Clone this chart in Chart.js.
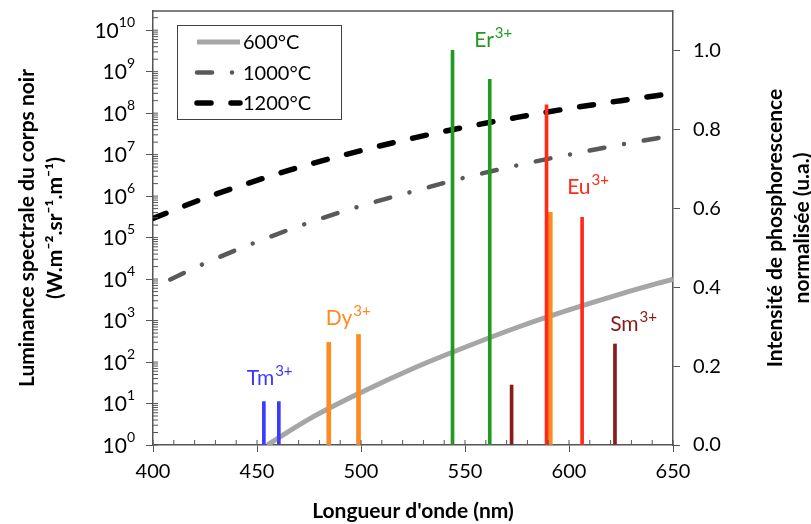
<!DOCTYPE html>
<html>
<head>
<meta charset="utf-8">
<script src="https://cdn.jsdelivr.net/npm/chart.js@4.4.1/dist/chart.umd.min.js"></script>
<style>
  body { margin: 0; background: #fff; }
</style>
</head>
<body>
<canvas id="chart" width="811" height="524"></canvas>
<script>
// ---------------- Données du corps noir ----------------
const wavelengths = [400, 425, 450, 475, 500, 525, 550, 575, 600, 625, 650];
const wavelengths600 = [455, 475, 500, 525, 550, 575, 600, 625, 650];
const lum600 = [1.0, 4.2, 18.5, 70, 227, 680, 1800, 4400, 1.0e4];
const lum1000 = [6.2e3, 2.4e4, 7.9e4, 2.3e5, 5.8e5, 1.3e6, 2.8e6, 5.5e6, 1.0e7, 1.75e7, 2.9e7];
const lum1200 = [2.9e5, 9.0e5, 2.4e6, 5.8e6, 1.25e7, 2.5e7, 4.6e7, 7.9e7, 1.3e8, 2.0e8, 3.0e8];
const seriesLabels = ['600°C', '1000°C', '1200°C'];

// ---------------- Raies de phosphorescence (intensité normalisée) ----------------
const ionNames = ['Tm', 'Dy', 'Er', 'Eu', 'Sm'];
const tmPeaks = [453.3, 460.5];
const tmHeights = [0.11, 0.11];
const dyPeaks = [484.5, 498.8, 591.0];
const dyHeights = [0.26, 0.28, 0.59];
const erPeaks = [544.0, 561.9];
const erHeights = [1.0, 0.927];
const euPeaks = [589.2, 606.3];
const euHeights = [0.862, 0.577];
const smPeaks = [572.4, 622.1];
const smHeights = [0.152, 0.256];

// position des étiquettes des ions (nm, intensité)
const ionLabelNm = [445.1, 483.0, 554.5, 599.1, 619.8];
const ionLabelVal = [0.152, 0.305, 1.01, 0.635, 0.289];

// ---------------- Axes ----------------
const decades = [0, 1, 2, 3, 4, 5, 6, 7, 8, 9, 10];
const rightTicks = [0, 0.2, 0.4, 0.6, 0.8, 1.0];
const xMajor = [400, 450, 500, 550, 600, 650];

const family = 'Lato, "DejaVu Sans", sans-serif';
const frameColor = '#555555';
const colors = {Tm: '#3b3bff', Dy: '#ff8a22', Er: '#229a22', Eu: '#ff2a1a', Sm: '#8b1a1a'};

function toPoints(xs, ys) {
    return xs.map((x, i) => ({x: x, y: ys[i]}));
}

function peakDataset(name, xs, ys, thick) {
    return {
        type: 'bar',
        label: name,
        data: toPoints(xs, ys),
        backgroundColor: colors[name],
        barThickness: thick,
        grouped: false,
        xAxisID: 'x',
        yAxisID: 'y1',
        order: 1
    };
}

function isDecade(v) {
    const l = Math.log10(v);
    return Math.abs(l - Math.round(l)) < 1e-9;
}

// pas de marge automatique autour des axes
function noPadding(s) {
    s.paddingTop = 0;
    s.paddingBottom = 0;
    s.paddingLeft = 0;
    s.paddingRight = 0;
}

// ---------------- Plugins : cadre, petites graduations, étiquettes ----------------
const decorations = {
    id: 'decorations',
    afterDraw(chart) {
        const ctx = chart.ctx;
        const area = chart.chartArea;
        const xs = chart.scales.x, ys = chart.scales.y, y1 = chart.scales.y1;
        ctx.save();

        // cadre du haut
        ctx.strokeStyle = frameColor;
        ctx.lineWidth = 1.5;
        ctx.beginPath();
        ctx.moveTo(area.left, area.top);
        ctx.lineTo(area.right, area.top);
        ctx.stroke();

        // graduations intérieures
        ctx.lineWidth = 1;
        ctx.beginPath();
        xs.ticks.forEach(t => {
            const px = xs.getPixelForValue(t.value);
            ctx.moveTo(px, area.bottom);
            ctx.lineTo(px, area.bottom - 5);
        });
        ys.ticks.forEach(t => {
            const py = ys.getPixelForValue(t.value);
            ctx.moveTo(area.left, py);
            ctx.lineTo(area.left + 5, py);
        });
        ctx.stroke();

        // étiquettes 10^n de l'axe gauche
        ctx.fillStyle = '#000';
        decades.forEach(d => {
            const py = ys.getPixelForValue(Math.pow(10, d));
            const exp = String(d);
            ctx.font = '14px ' + family;
            const ew = ctx.measureText(exp).width;
            const xr = area.left - 18;
            ctx.textBaseline = 'middle';
            ctx.textAlign = 'right';
            ctx.font = '21px ' + family;
            ctx.fillText('10', xr - ew, py + 1);
            ctx.textAlign = 'left';
            ctx.font = '14px ' + family;
            ctx.fillText(exp, xr - ew, py - 8);
        });

        // titre de l'axe droit
        ctx.save();
        ctx.translate(789, (area.top + area.bottom) / 2);
        ctx.rotate(-Math.PI / 2);
        ctx.textAlign = 'center';
        ctx.textBaseline = 'middle';
        ctx.font = 'bold 21px ' + family;
        ctx.fillText('Intensité de phosphorescence', 0, -14);
        ctx.fillText('normalisée (u.a.)', 0, 13);
        ctx.restore();

        // étiquettes des ions
        ionNames.forEach((name, i) => {
            const px = xs.getPixelForValue(ionLabelNm[i]);
            const py = y1.getPixelForValue(ionLabelVal[i]);
            ctx.fillStyle = colors[name];
            ctx.textAlign = 'left';
            ctx.textBaseline = 'alphabetic';
            ctx.font = '21px ' + family;
            ctx.fillText(name, px, py);
            const w = ctx.measureText(name).width;
            ctx.font = '15px ' + family;
            ctx.fillText('3+', px + w + 1, py - 9);
        });

        // légende
        const bx = area.left + 24, by = area.top + 14, bw = 164, bh = 94;
        ctx.strokeStyle = '#404040';
        ctx.lineWidth = 1;
        ctx.strokeRect(bx + 0.5, by + 0.5, bw, bh);
        chart.data.datasets.slice(0, 3).forEach((ds, i) => {
            const ly = by + 17 + i * 30.5;
            ctx.save();
            ctx.strokeStyle = ds.borderColor;
            ctx.lineWidth = ds.borderWidth;
            ctx.lineCap = ds.borderCapStyle || 'butt';
            ctx.setLineDash(ds.borderDash || []);
            ctx.beginPath();
            ctx.moveTo(bx + 20, ly);
            ctx.lineTo(bx + 63, ly);
            ctx.stroke();
            ctx.restore();
            ctx.fillStyle = '#000';
            ctx.font = '20px ' + family;
            ctx.textAlign = 'left';
            ctx.textBaseline = 'middle';
            ctx.fillText(ds.label, bx + 66, ly + 1);
        });

        ctx.restore();
    }
};

// ---------------- Graphique ----------------
const ctx = document.getElementById('chart').getContext('2d');
new Chart(ctx, {
    type: 'line',
    data: {
        datasets: [
            {
                label: seriesLabels[0],
                data: toPoints(wavelengths600, lum600),
                borderColor: '#a6a6a6',
                borderWidth: 5,
                pointRadius: 0,
                cubicInterpolationMode: 'monotone',
                yAxisID: 'y',
                order: 2
            },
            {
                label: seriesLabels[1],
                data: toPoints(wavelengths, lum1000),
                borderColor: '#595959',
                borderWidth: 4.5,
                borderDash: [15, 20, 0.01, 20],
                borderDashOffset: 36,
                borderCapStyle: 'round',
                pointRadius: 0,
                cubicInterpolationMode: 'monotone',
                yAxisID: 'y',
                order: 2
            },
            {
                label: seriesLabels[2],
                data: toPoints(wavelengths, lum1200),
                borderColor: '#000000',
                borderWidth: 5.5,
                borderDash: [14, 20],
                borderCapStyle: 'round',
                pointRadius: 0,
                cubicInterpolationMode: 'monotone',
                yAxisID: 'y',
                order: 2
            },
            peakDataset('Tm', tmPeaks, tmHeights, 3),
            peakDataset('Eu', euPeaks, euHeights, 3),
            peakDataset('Dy', dyPeaks, dyHeights, 4),
            peakDataset('Er', erPeaks, erHeights, 3),
            peakDataset('Sm', smPeaks, smHeights, 3)
        ]
    },
    options: {
        responsive: false,
        animation: false,
        devicePixelRatio: 1,
        layout: {padding: {top: 11, left: 0, right: 0, bottom: 0}},
        plugins: {
            legend: {display: false},
            tooltip: {enabled: false}
        },
        scales: {
            x: {
                type: 'linear',
                position: 'bottom',
                min: 400,
                max: 650,
                offset: false,
                afterFit: s => { s.height = 79; noPadding(s); },
                ticks: {
                    stepSize: 10,
                    maxTicksLimit: 60,
                    autoSkip: false,
                    maxRotation: 0,
                    padding: 8,
                    color: '#000',
                    font: {family: family, size: 20},
                    callback: v => xMajor.includes(v) ? String(v) : ''
                },
                grid: {
                    offset: false,
                    drawOnChartArea: false,
                    tickLength: 7,
                    tickColor: c => (c.tick && xMajor.includes(c.tick.value)) ? frameColor : 'rgba(0,0,0,0)'
                },
                border: {color: frameColor, width: 1.5},
                title: {
                    display: true,
                    text: "Longueur d'onde (nm)",
                    color: '#000',
                    font: {family: family, size: 21, weight: 'bold', lineHeight: 1.2},
                    padding: {top: 0, bottom: 0}
                }
            },
            y: {
                type: 'logarithmic',
                position: 'left',
                min: 1,
                max: 2.9e10,
                afterFit: s => { s.width = 153; noPadding(s); },
                afterBuildTicks: s => {
                    const t = [];
                    decades.forEach(d => {
                        for (let k = 1; k <= 9; k++) {
                            const v = k * Math.pow(10, d);
                            if (v <= 2.9e10) t.push({value: v});
                        }
                    });
                    s.ticks = t;
                },
                ticks: {
                    autoSkip: false,
                    color: 'rgba(0,0,0,0)',
                    font: {family: family, size: 20},
                    callback: v => isDecade(v) ? '10' : ''
                },
                grid: {
                    drawOnChartArea: false,
                    tickLength: 7,
                    tickColor: c => (c.tick && isDecade(c.tick.value)) ? frameColor : 'rgba(0,0,0,0)'
                },
                border: {color: frameColor, width: 1.5},
                title: {
                    display: true,
                    text: ['Luminance spectrale du corps noir', '(W.m⁻².sr⁻¹.m⁻¹)'],
                    color: '#000',
                    font: {family: family, size: 21, weight: 'bold', lineHeight: 1.3},
                    padding: {top: 14, bottom: 0}
                }
            },
            y1: {
                type: 'linear',
                position: 'right',
                min: 0,
                max: 1.1,
                afterFit: s => { s.width = 138; noPadding(s); },
                afterBuildTicks: s => {
                    s.ticks = rightTicks.map(v => ({value: v}));
                },
                ticks: {
                    padding: 13,
                    color: '#000',
                    font: {family: family, size: 20},
                    callback: v => v.toFixed(1)
                },
                grid: {
                    drawOnChartArea: false,
                    tickLength: 7,
                    tickColor: frameColor
                },
                border: {color: frameColor, width: 1.5}
            }
        }
    },
    plugins: [decorations]
});
</script>
</body>
</html>
